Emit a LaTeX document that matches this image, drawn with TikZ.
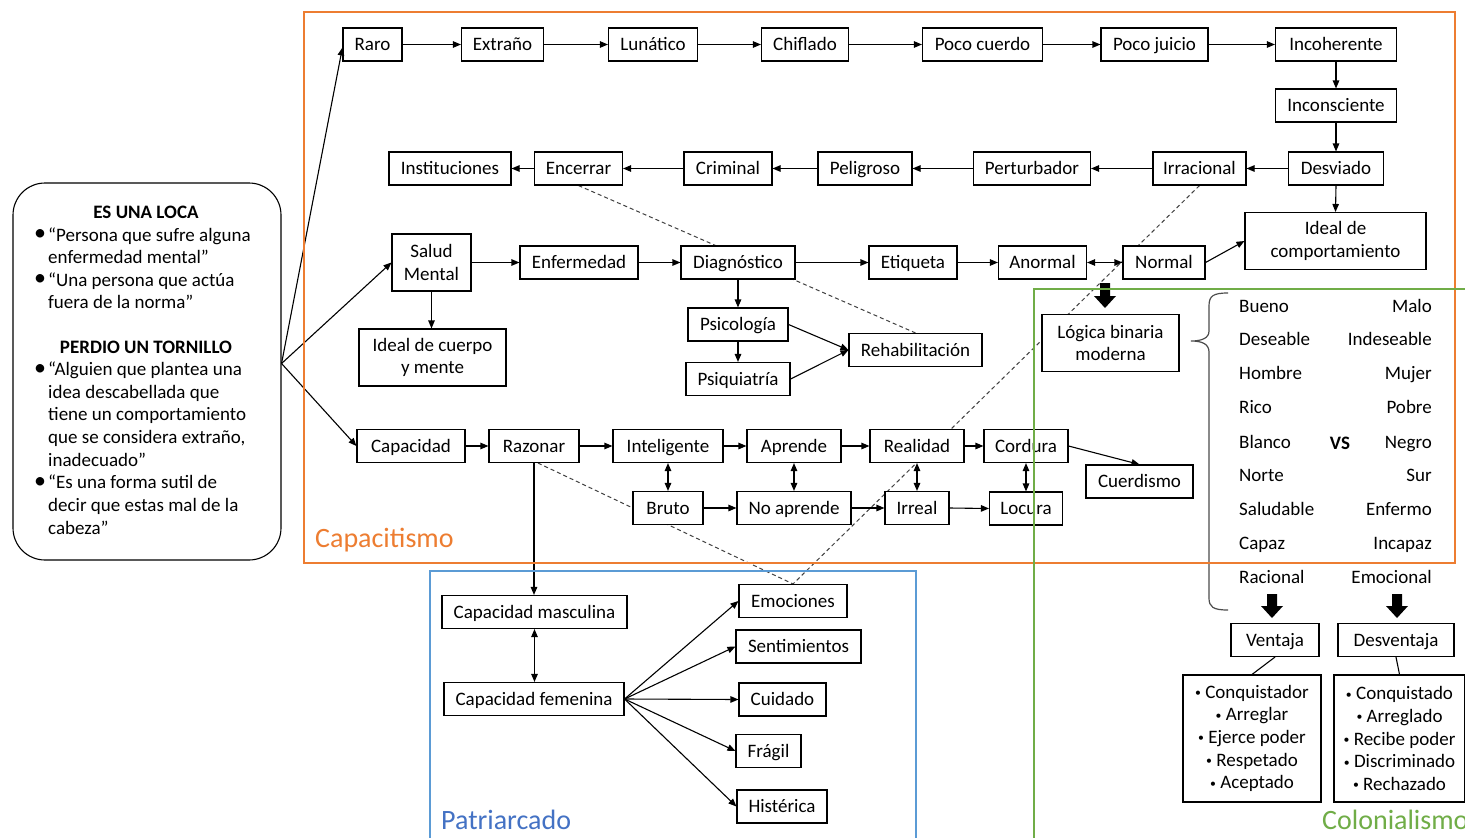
\documentclass[tikz,border=0pt]{standalone}
\usepackage{fontspec}
\usepackage{graphicx}
\setmainfont{Carlito}
\usetikzlibrary{arrows.meta,calc,backgrounds}

\definecolor{capcol}{HTML}{ED7D31}
\definecolor{patcol}{HTML}{4472C4}
\definecolor{patframe}{HTML}{5B9BD5}
\definecolor{colcol}{HTML}{70AD47}

\tikzset{
  basebox/.style={draw=black, line width=1.1pt, fill=white, inner sep=0pt,
    font=\fontsize{19}{22.7}\selectfont, align=center},
  box/.style={basebox, minimum height=33pt, text height=15pt, text depth=3pt},
  tallbox/.style={basebox, minimum height=57pt},
  link/.style={line width=1.1pt, -{Triangle[length=8pt,width=6.5pt]}},
  twoway/.style={line width=1.1pt, {Triangle[length=8pt,width=6.5pt]}-{Triangle[length=8pt,width=6.5pt]}},
  plainline/.style={line width=1.1pt},
  guide/.style={draw=black!75, line width=1pt, dash pattern=on 4pt off 3pt},
  grpframe/.style={line width=1.3pt},
  grplabel/.style={font=\fontsize{28}{32}\selectfont, inner sep=0pt, anchor=west},
  note/.style={font=\fontsize{19}{22.7}\selectfont, inner sep=0pt, anchor=base west},
  head/.style={font=\fontsize{19}{22.7}\selectfont\bfseries, inner sep=0pt},
  dot/.style={font=\fontsize{24}{24}\selectfont, inner sep=0pt},
  pair/.style={font=\fontsize{19}{22.7}\selectfont, inner sep=0pt},
}

% small list bullet
\newcommand\lbul{\raisebox{1.6pt}{\scalebox{0.62}{•}}}

% solid block arrow pointing down: x, top y, tip y
\newcommand\blkarrow[3]{%
  \fill[black] (#1-5,#2) -- (#1+5,#2) -- (#1+5,#3-12) -- (#1+11,#3-12)
    -- (#1,#3) -- (#1-11,#3-12) -- (#1-5,#3-12) -- cycle;}

\begin{document}
\begin{tikzpicture}[x=1pt,y=-1pt]
\useasboundingbox (0,0) rectangle (1465,838);

% ---------- left description box ----------
\node[draw, line width=1.1pt, rounded corners=32pt, minimum width=268pt,
      minimum height=377pt] (loca) at (147,371.5) {};
\node[head] (h1) at (146,212) {ES UNA LOCA};
\node[head] (h2) at (146,347) {PERDIO UN TORNILLO};
\foreach \y [count=\i] in {235.5,280.5,370,483.4}
  \node[dot] (b\i) at (40,\y) {•};
\foreach \txt/\y [count=\i] in {
  {“Persona que sufre alguna}/235.5,
  {enfermedad mental”}/258,
  {“Una persona que actúa}/280.5,
  {fuera de la norma”}/303,
  {“Alguien que plantea una}/370,
  {idea descabellada que}/392.7,
  {tiene un comportamiento}/415.4,
  {que se considera extraño,}/438,
  {inadecuado”}/460.7,
  {“Es una forma sutil de}/483.4,
  {decir que estas mal de la}/506,
  {cabeza”}/528.7}
  \node[note] (t\i) at (48,\y+5.5) {\txt};

% ---------- Capacitismo ----------
\node[box, minimum width=59pt]  (raro)        at (372.5,44.5) {Raro};
\node[box, minimum width=82pt]  (extrano)     at (502.5,44.5) {Extraño};
\node[box, minimum width=89pt]  (lunatico)    at (653,44.5) {Lunático};
\node[box, minimum width=87pt]  (chiflado)    at (805,44.5) {Chiflado};
\node[box, minimum width=120pt] (pococuerdo)  at (982.5,44.5) {Poco cuerdo};
\node[box, minimum width=107pt] (pocojuicio)  at (1154.5,44.5) {Poco juicio};
\node[box, minimum width=121pt] (incoherente) at (1336,44.5) {Incoherente};
\node[box, minimum width=121pt] (inconsciente) at (1336,105.5) {Inconsciente};
\node[box, minimum width=95pt]  (desviado)    at (1336,168.5) {Desviado};
\node[box, minimum width=93pt]  (irracional)  at (1199.5,168.5) {Irracional};
\node[box, minimum width=117pt] (perturbador) at (1032,168.5) {Perturbador};
\node[box, minimum width=94pt]  (peligroso)   at (865,168.5) {Peligroso};
\node[box, minimum width=88pt]  (criminal)    at (728,168.5) {Criminal};
\node[box, minimum width=88pt]  (encerrar)    at (578.5,168.5) {Encerrar};
\node[box, minimum width=122pt] (instituciones) at (450,168.5) {Instituciones};
\node[tallbox, minimum width=181pt] (idealcomp) at (1335.5,241) {Ideal de\\comportamiento};

\node[tallbox, minimum width=79pt] (salud) at (431.5,262.5) {Salud\\Mental};
\node[box, minimum width=118pt] (enfermedad)  at (579,262.5) {Enfermedad};
\node[box, minimum width=114pt] (diagnostico) at (738,262.5) {Diagnóstico};
\node[box, minimum width=88pt]  (etiqueta)    at (913,262.5) {Etiqueta};
\node[box, minimum width=88pt]  (anormal)     at (1042.5,262.5) {Anormal};
\node[box, minimum width=82pt]  (normal)      at (1164,262.5) {Normal};
\node[tallbox, minimum width=147pt] (idealcuerpo) at (432.5,357.5) {Ideal de cuerpo\\y mente};
\node[box, minimum width=100pt] (psicologia)  at (738,324.5) {Psicología};
\node[box, minimum width=104pt] (psiquiatria) at (738,379) {Psiquiatría};
\node[box, minimum width=133pt] (rehab)       at (915.5,350) {Rehabilitación};

\node[box, minimum width=108pt] (capacidad)   at (411,446) {Capacidad};
\node[box, minimum width=90pt]  (razonar)     at (534,446) {Razonar};
\node[box, minimum width=110pt] (inteligente) at (668,446) {Inteligente};
\node[box, minimum width=94pt]  (aprende)     at (794,446) {Aprende};
\node[box, minimum width=94pt]  (realidad)    at (917,446) {Realidad};
\node[box, minimum width=84pt]  (cordura)     at (1026,446) {Cordura};
\node[box, minimum width=107pt] (cuerdismo)   at (1139.5,481.5) {Cuerdismo};
\node[box, minimum width=70pt]  (bruto)       at (668,508) {Bruto};
\node[box, minimum width=114pt] (noaprende)   at (794,508) {No aprende};
\node[box, minimum width=64pt]  (irreal)      at (917,508) {Irreal};
\node[box, minimum width=73pt]  (locura)      at (1026,508.5) {Locura};

% ---------- Patriarcado ----------
\node[box, minimum width=185pt] (capmasc)      at (534.5,612) {Capacidad masculina};
\node[box, minimum width=180pt] (capfem)       at (534,699) {Capacidad femenina};
\node[box, minimum width=108pt] (emociones)    at (793,601) {Emociones};
\node[box, minimum width=125pt] (sentimientos) at (798.5,646.5) {Sentimientos};
\node[box, minimum width=87pt]  (cuidado)      at (782.5,699.5) {Cuidado};
\node[box, minimum width=65pt]  (fragil)       at (768.5,751) {Frágil};
\node[box, minimum width=90pt]  (histerica)    at (782,806.5) {Histérica};

% ---------- Colonialismo ----------
\node[tallbox, minimum width=137pt] (logica) at (1110.5,343) {Lógica binaria\\moderna};
\foreach \l/\r/\y [count=\i] in {Bueno/Malo/306.5, Deseable/Indeseable/340,
    Hombre/Mujer/374, Rico/Pobre/408, Blanco/Negro/442.5, Norte/Sur/476,
    Saludable/Enfermo/510, Capaz/Incapaz/544, Racional/Emocional/578}{
  \node[pair, anchor=base west] (pl\i) at (1239,\y+5.5) {\l};
  \node[pair, anchor=base east] (pr\i) at (1432,\y+5.5) {\r};
}
\node[head] (vs) at (1340,443) {VS};
\node[box, minimum width=88pt]  (ventaja)    at (1275,640) {Ventaja};
\node[box, minimum width=116pt] (desventaja) at (1396,640) {Desventaja};
\node[basebox, minimum width=138pt, minimum height=127pt] (listv) at (1252,738.5)
  {\lbul\ Conquistador\\\lbul\ Arreglar\\\lbul\ Ejerce poder\\\lbul\ Respetado\\\lbul\ Aceptado};
\node[basebox, minimum width=131pt, minimum height=127pt] (listd) at (1399.5,738.5)
  {\lbul\ Conquistado\\\lbul\ Arreglado\\\lbul\ Recibe poder\\\lbul\ Discriminado\\\lbul\ Rechazado};

% ---------- dashed cross links, behind the boxes ----------
\begin{scope}[on background layer]
  \fill[white] (0,0) rectangle (1465,838);
  \draw[guide] (encerrar.south) -- (rehab.north);
  \draw[guide] (irracional.south) -- (emociones.north);
  \draw[guide] ($(razonar.south)+(4,0)$) -- (emociones.north);
\end{scope}

% ---------- connectors ----------
\coordinate (fan) at ($(loca.east)+(0,-8)$);
\draw[link] (fan) -- ($(raro.west)+(0,3)$);
\draw[link] (fan) -- (salud.west);
\draw[link] (fan) -- (capacidad.west);

\foreach \a/\b in {raro/extrano, extrano/lunatico, lunatico/chiflado,
    chiflado/pococuerdo, pococuerdo/pocojuicio, pocojuicio/incoherente}
  \draw[link] (\a.east) -- (\b.west);
\draw[link] (incoherente.south) -- (inconsciente.north);
\draw[link] (inconsciente.south) -- (desviado.north);
\draw[link] (desviado.south) -- (idealcomp.north);
\foreach \a/\b in {desviado/irracional, irracional/perturbador,
    perturbador/peligroso, peligroso/criminal, criminal/encerrar,
    encerrar/instituciones}
  \draw[link] (\a.west) -- (\b.east);

\foreach \a/\b in {salud/enfermedad, enfermedad/diagnostico,
    diagnostico/etiqueta, etiqueta/anormal}
  \draw[link] (\a.east) -- (\b.west);
\draw[twoway] (anormal.east) -- (normal.west);
\draw[link] (normal.east) -- (idealcomp.west);
\draw[link] (salud.south) -- (salud.south |- idealcuerpo.north);
\draw[link] (diagnostico.south) -- (diagnostico.south |- psicologia.north);
\draw[link] (psicologia.south) -- (psicologia.south |- psiquiatria.north);
\draw[link] (psicologia.east) -- (rehab.west);
\draw[link] (psiquiatria.east) -- (rehab.west);

\foreach \a/\b in {capacidad/razonar, razonar/inteligente,
    inteligente/aprende, aprende/realidad, realidad/cordura,
    bruto/noaprende, noaprende/irreal, irreal/locura}
  \draw[link] (\a.east) -- (\b.west);
\draw[link] (cordura.east) -- (cuerdismo.north);
\foreach \a/\b in {bruto/inteligente, noaprende/aprende, irreal/realidad,
    locura/cordura}
  \draw[twoway] (\a.north |- \b.south) -- (\a.north);

\draw[link] (razonar.south) -- (razonar.south |- capmasc.north);
\draw[twoway] (capmasc.south) -- (capmasc.south |- capfem.north);
\foreach \t in {emociones, sentimientos, cuidado, fragil, histerica}
  \draw[link] (capfem.east) -- (\t.west);

\draw[plainline] (ventaja.south) -- (listv.north);
\draw[plainline] (desventaja.south) -- (listd.north);

% brace gathering the pairs
\draw[black!70, line width=1.2pt]
  (1228,293) .. controls (1213,293) and (1209,296) .. (1209,306)
  -- (1209,331) .. controls (1209,338) and (1202,341) .. (1191,341)
  .. controls (1202,341) and (1209,344) .. (1209,352)
  -- (1209,598) .. controls (1209,607) and (1213,610) .. (1228,610);

% block arrows
\blkarrow{1105}{283}{308}
\blkarrow{1272}{594}{618}
\blkarrow{1397}{594}{618}

% ---------- group frames and titles ----------
\draw[grpframe, capcol] (304,12) rectangle (1455,563);
\draw[grpframe, patframe] (430,571) rectangle (916,850);
\draw[grpframe, colcol] (1034,289) rectangle (1480,850);
\node[grplabel, text=capcol] (lblcap) at (315,540) {Capacitismo};
\node[grplabel, text=patcol] (lblpat) at (441,820) {Patriarcado};
\node[grplabel, text=colcol] (lblcol) at (1322,820) {Colonialismo};
\end{tikzpicture}
\end{document}
